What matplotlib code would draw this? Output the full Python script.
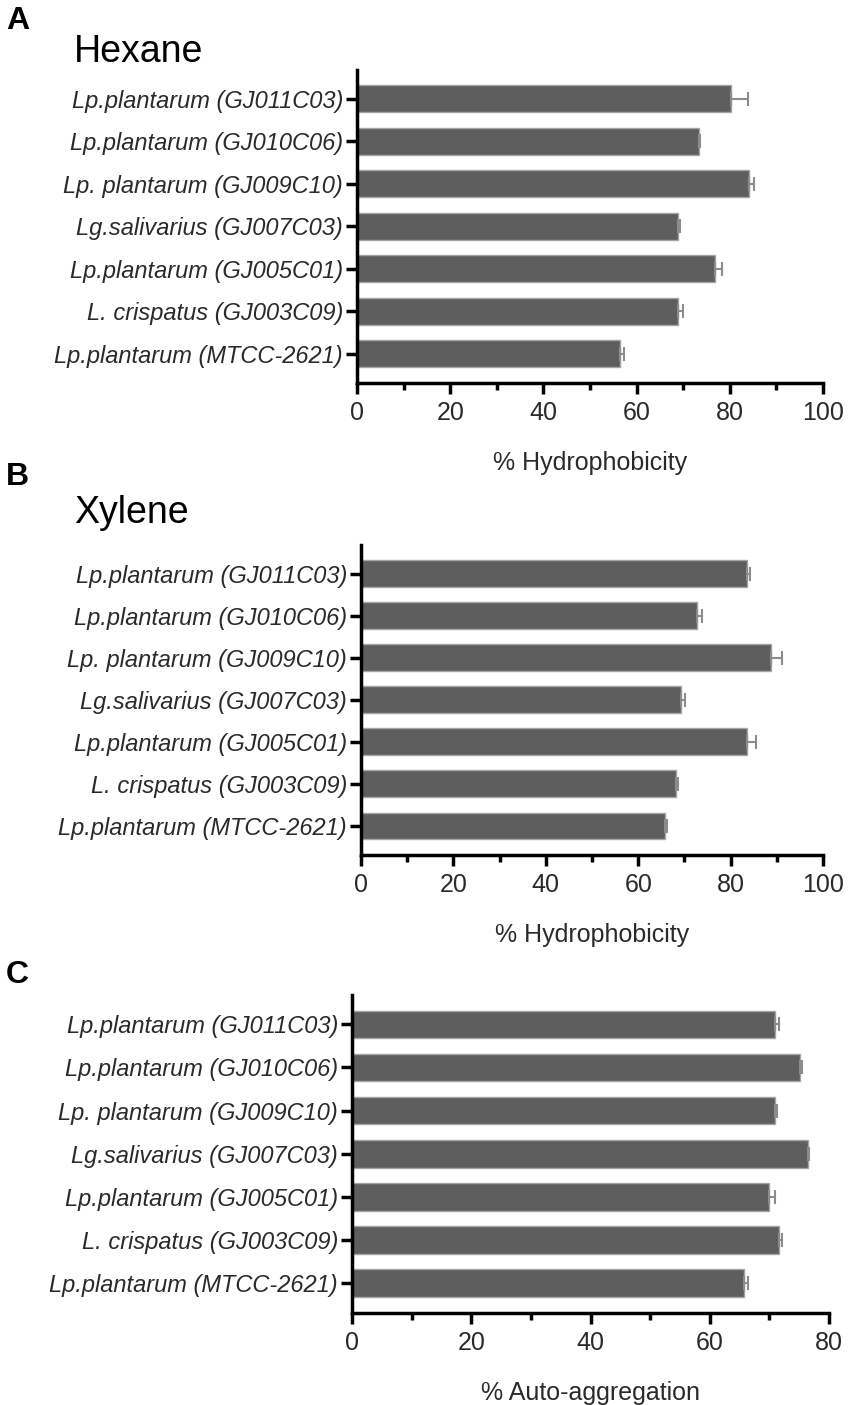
import matplotlib
matplotlib.use("Agg")
import matplotlib.pyplot as plt
from matplotlib.ticker import MultipleLocator
import numpy as np

plt.rcParams['font.family'] = ['Liberation Sans', 'DejaVu Sans']

strains = ["Lp.plantarum (GJ011C03)", "Lp.plantarum (GJ010C06)",
           "Lp. plantarum (GJ009C10)", "Lg.salivarius (GJ007C03)",
           "Lp.plantarum (GJ005C01)", "L. crispatus (GJ003C09)",
           "Lp.plantarum (MTCC-2621)"]

hexane = [80.3, 73.4, 84.1, 68.9, 76.9, 68.9, 56.5]
hexane_err = [3.7, 0.3, 1.0, 0.4, 1.4, 1.1, 0.7]

xylene = [83.6, 72.8, 88.7, 69.3, 83.6, 68.2, 65.9]
xylene_err = [0.7, 1.1, 2.5, 0.9, 1.8, 0.5, 0.4]

autoagg = [71.0, 75.2, 71.0, 76.4, 70.0, 71.6, 65.8]
autoagg_err = [0.6, 0.2, 0.2, 0.3, 1.0, 0.45, 0.55]

W, H = 851, 1405
fig = plt.figure(figsize=(W / 100, H / 100), dpi=100)


def box(l, r, t, b):
    return [l / W, 1 - b / H, (r - l) / W, (b - t) / H]


def panel(rect, vals, errs, xmax, xlabel, letter, letter_y, title=None, title_y=None):
    ax = fig.add_axes(rect)
    y = np.arange(len(vals))
    ax.barh(y, vals, height=0.64, color='#5e5e5e', edgecolor='#a5a5a5', linewidth=1, zorder=2)
    ax.errorbar(vals, y, xerr=[np.zeros(len(errs)), errs], fmt='none',
                ecolor='#8c8c8c', elinewidth=1.5, capsize=5, capthick=1.5, zorder=3)
    ax.set_ylim(len(vals) - 1 + 0.69, -0.68)
    ax.set_xlim(0, xmax)
    ax.set_yticks(y)
    ax.set_yticklabels(strains, fontstyle='italic', fontsize=17, color='#2a2a2a')
    ax.xaxis.set_major_locator(MultipleLocator(20))
    ax.xaxis.set_minor_locator(MultipleLocator(10))
    ax.tick_params(axis='x', labelsize=18, labelcolor='#2a2a2a', width=2.5, length=8, pad=5)
    ax.tick_params(axis='x', which='minor', width=2.5, length=5)
    ax.tick_params(axis='y', width=2.5, length=8, pad=2)
    for s in ['top', 'right']:
        ax.spines[s].set_visible(False)
    for s in ['left', 'bottom']:
        ax.spines[s].set_linewidth(2.5)
    ax.set_xlabel(xlabel, fontsize=18, color='#2a2a2a', labelpad=19)
    fig.text(6 / W, 1 - letter_y / H, letter, fontsize=23, fontweight='bold', va='baseline')
    if title:
        fig.text(74 / W, 1 - title_y / H, title, fontsize=27, va='baseline')
    return ax


panel(box(357, 823, 70, 383), hexane, hexane_err, 100, "% Hydrophobicity", "A", 29, "Hexane", 62)
panel(box(361, 823, 545, 855), xylene, xylene_err, 100, "% Hydrophobicity", "B", 485, "Xylene", 523)
panel(box(352, 829, 995, 1313), autoagg, autoagg_err, 80, "% Auto-aggregation", "C", 983)

fig.savefig("out.png", dpi=100, facecolor='white')
